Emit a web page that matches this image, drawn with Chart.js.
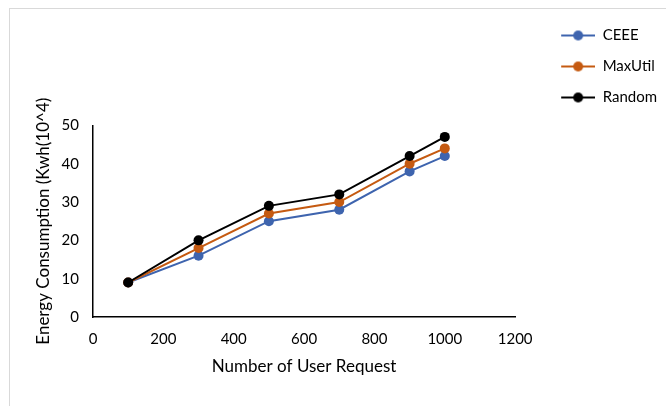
<!DOCTYPE html>
<html lang="en">
<head>
    <meta charset="UTF-8">
    <title>Energy Consumption</title>
    <script src="https://cdn.jsdelivr.net/npm/chart.js"></script>
    <style>
        body {
            margin: 0;
            background: #fff;
        }

        #wrap {
            position: relative;
            width: 666px;
            height: 406px;
            overflow: hidden;
        }

        #frame {
            position: absolute;
            left: 9px;
            top: 8px;
            width: 700px;
            height: 420px;
            border: 1px solid #d9d9d9;
        }

        canvas {
            position: absolute;
            left: 0;
            top: 0;
        }
    </style>
</head>
<body>
    <div id="wrap">
        <div id="frame"></div>
        <canvas id="energyChart" width="666" height="406"></canvas>
    </div>

    <script>
        // data
        const userRequests = [100, 300, 500, 700, 900, 1000];
        const ceee = [9, 16, 25, 28, 38, 42];
        const maxUtil = [9, 18, 27, 30, 40, 44];
        const random = [9, 20, 29, 32, 42, 47];
        const seriesNames = ['CEEE', 'MaxUtil', 'Random'];
        const xTicks = [0, 200, 400, 600, 800, 1000, 1200];
        const yTicks = [0, 10, 20, 30, 40, 50];

        const colors = ['#3E64AE', '#C55A11', '#000000'];
        const fontFamily = 'Lato, "Open Sans", sans-serif';

        // legend marker: blank lead-in (gap from the plot) then line + dot
        const markerGap = 30;
        const markerLen = 34;
        function legendMarker(color) {
            const c = document.createElement('canvas');
            c.width = markerGap + markerLen;
            c.height = 12;
            const ctx = c.getContext('2d');
            ctx.strokeStyle = color;
            ctx.lineWidth = 2;
            ctx.beginPath();
            ctx.moveTo(markerGap, 6);
            ctx.lineTo(markerGap + markerLen, 6);
            ctx.stroke();
            ctx.fillStyle = color;
            ctx.beginPath();
            ctx.arc(markerGap + markerLen / 2, 6, 5, 0, Math.PI * 2);
            ctx.fill();
            return c;
        }

        function toPoints(values) {
            return values.map((v, i) => ({ x: userRequests[i], y: v }));
        }

        const seriesValues = [ceee, maxUtil, random];
        const datasets = seriesValues.map((values, i) => ({
            label: seriesNames[i],
            data: toPoints(values),
            borderColor: colors[i],
            backgroundColor: colors[i],
            borderWidth: 2,
            pointRadius: 5,
            pointHoverRadius: 5,
            pointBorderWidth: 0,
            pointStyle: 'circle',
            order: seriesValues.length - i // Random drawn on top
        }));

        new Chart(document.getElementById('energyChart').getContext('2d'), {
            type: 'line',
            data: { datasets: datasets },
            options: {
                responsive: false,
                animation: false,
                layout: {
                    padding: { left: 33, right: -1, top: 12, bottom: 29 }
                },
                plugins: {
                    tooltip: { enabled: false },
                    // empty title only used to push the plot area down
                    title: {
                        display: true,
                        text: '',
                        fullSize: false,
                        padding: { top: 99, bottom: 0 },
                        font: { size: 12 }
                    },
                    legend: {
                        position: 'right',
                        align: 'start',
                        labels: {
                            usePointStyle: true,
                            pointStyleWidth: markerGap + markerLen,
                            padding: 16,
                            color: '#000',
                            font: { family: fontFamily, size: 15 },
                            sort: (a, b) => a.datasetIndex - b.datasetIndex,
                            generateLabels: (chart) => {
                                const items = Chart.defaults.plugins.legend.labels.generateLabels(chart);
                                items.forEach(item => {
                                    item.pointStyle = legendMarker(colors[item.datasetIndex]);
                                });
                                return items;
                            }
                        }
                    }
                },
                scales: {
                    x: {
                        type: 'linear',
                        min: 0,
                        max: 1200,
                        afterBuildTicks: (axis) => {
                            axis.ticks = xTicks.map(v => ({ value: v }));
                        },
                        afterFit: (scale) => {
                            scale.height = 60;
                        },
                        grid: { display: false, drawTicks: false },
                        border: { display: true, color: '#000', width: 1.5 },
                        ticks: {
                            padding: 13,
                            color: '#000',
                            maxRotation: 0,
                            callback: (v) => String(v),
                            font: { family: fontFamily, size: 15 }
                        },
                        title: {
                            display: true,
                            text: 'Number of User Request',
                            color: '#000',
                            padding: { top: 6, bottom: 0 },
                            font: { family: fontFamily, size: 17 }
                        }
                    },
                    y: {
                        min: 0,
                        max: 50,
                        afterBuildTicks: (axis) => {
                            axis.ticks = yTicks.map(v => ({ value: v }));
                        },
                        afterFit: (scale) => {
                            scale.width = 60;
                        },
                        grid: { display: false, drawTicks: false },
                        border: { display: true, color: '#000', width: 1.5 },
                        ticks: {
                            padding: 14,
                            color: '#000',
                            callback: (v) => String(v),
                            font: { family: fontFamily, size: 15 }
                        },
                        title: {
                            display: true,
                            text: 'Energy Consumption (Kwh(10^4)',
                            color: '#000',
                            padding: { top: 0, bottom: 8 },
                            font: { family: fontFamily, size: 17 }
                        }
                    }
                }
            }
        });
    </script>
</body>
</html>
